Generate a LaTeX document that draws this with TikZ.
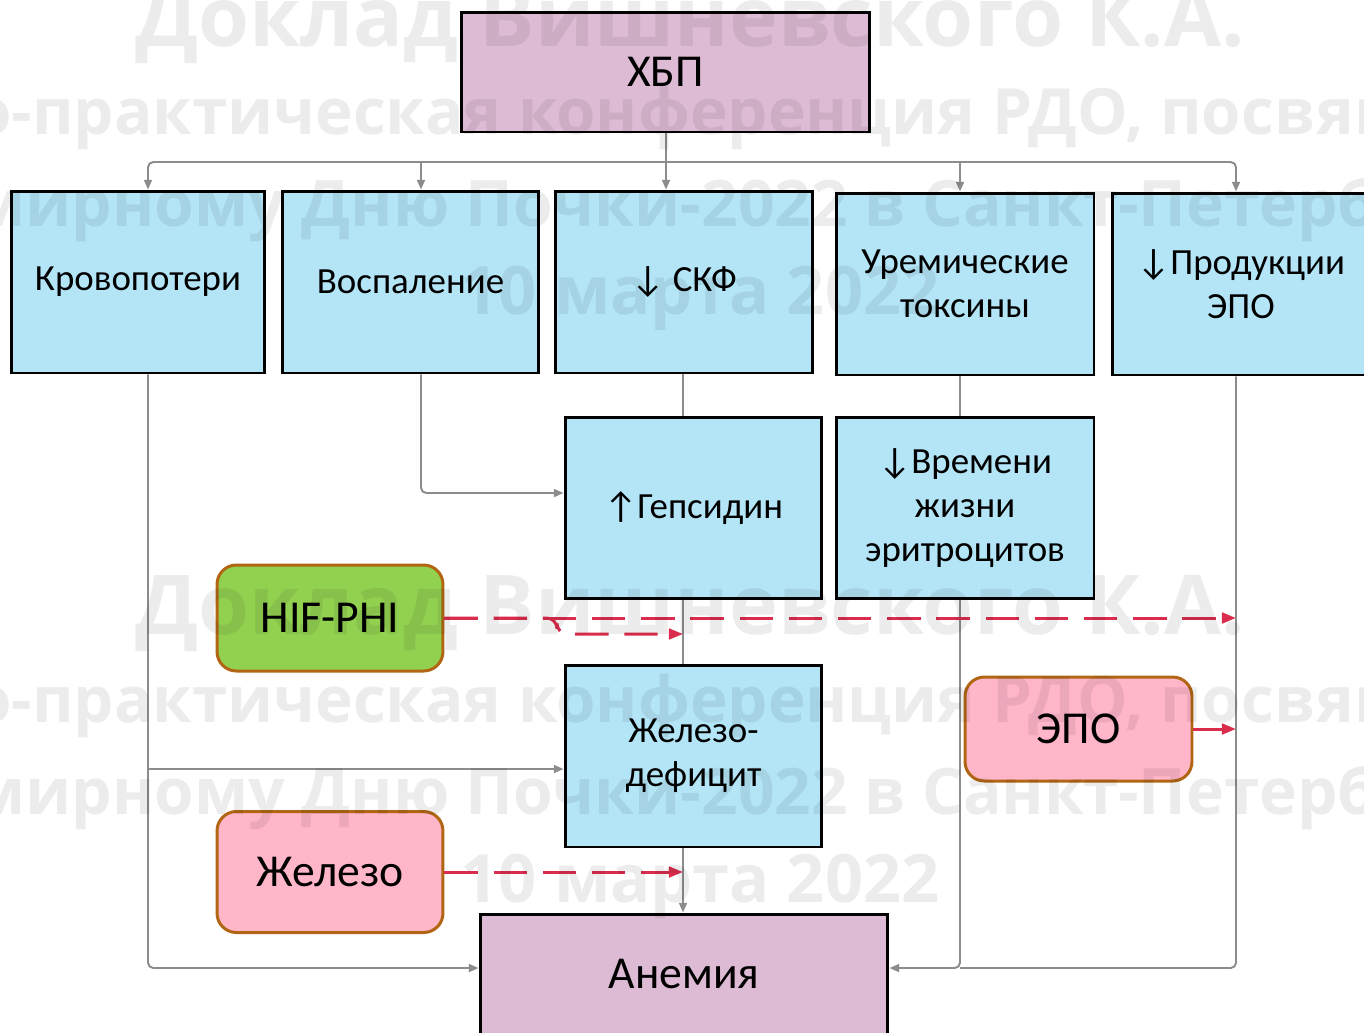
\documentclass[tikz,border=0pt]{standalone}
\usepackage{fontspec}
\setmainfont{Carlito}
\newfontfamily\wmfont{Open Sans}
\usetikzlibrary{arrows.meta}
\definecolor{boxblue}{RGB}{179,229,247}
\definecolor{lilac}{RGB}{221,187,212}
\definecolor{hifgreen}{RGB}{146,208,80}
\definecolor{pinkfill}{RGB}{255,182,201}
\definecolor{rborder}{RGB}{178,102,20}
\definecolor{conngray}{RGB}{140,140,140}
\definecolor{reddash}{RGB}{218,44,76}
\tikzset{
  sqbox/.style={draw=black, line width=1.7pt, fill=boxblue, inner sep=0pt, align=center,
    font=\fontsize{21}{25}\selectfont},
  bigbox/.style={sqbox, fill=lilac, font=\fontsize{26}{30}\selectfont},
  rbox/.style={draw=rborder, line width=1.7pt, rounded corners=11pt, inner sep=0pt, align=center,
    font=\fontsize{26}{30}\selectfont},
  conn/.style={draw=conngray, line width=1.1pt},
  garrow/.style={conn, -{Triangle[length=5.5pt,width=4.5pt]}},
  rline/.style={draw=reddash, line width=1.7pt, dash pattern=on 19pt off 9pt, -{Triangle[length=8pt,width=6pt]}},
  rsolid/.style={draw=reddash, line width=1.7pt, -{Triangle[length=8pt,width=6pt]}},
  wm/.style={text=black, text opacity=0.075, inner sep=0pt, anchor=base},
}
\begin{document}
\begin{tikzpicture}[x=0.02cm,y=-0.02cm]
\path[use as bounding box] (0,0) rectangle (1364,1032);
\clip (0,0) rectangle (1364,1032);
\fill[white] (0,0) rectangle (1364,1032);

% nodes
\node[bigbox, minimum width=8.18cm, minimum height=2.4cm] (hbp) at (665.5,72) {ХБП};
\node[sqbox, minimum width=5.08cm, minimum height=3.64cm] (krov) at (138,282) {\raisebox{-3pt}{Кровопотери}};
\node[sqbox, minimum width=5.14cm, minimum height=3.64cm] (vosp) at (410.5,282) {\raisebox{-3pt}{Воспаление}};
\node[sqbox, minimum width=5.16cm, minimum height=3.64cm] (skf) at (684,282) {\raisebox{-3pt}{↓ СКФ}};
\node[sqbox, minimum width=5.16cm, minimum height=3.64cm] (urem) at (965,284) {Уремические\\токсины};
\node[sqbox, minimum width=5.16cm, minimum height=3.64cm] (prod) at (1241,284) {↓Продукции\\ЭПО};
\node[sqbox, minimum width=5.14cm, minimum height=3.62cm] (gep) at (693.5,508) {↑Гепсидин};
\node[sqbox, minimum width=5.16cm, minimum height=3.62cm] (vrem) at (965,508) {↓Времени\\жизни\\эритроцитов};
\node[rbox, fill=hifgreen, minimum width=4.52cm, minimum height=2.12cm] (hif) at (330,618) {HIF-PHI};
\node[sqbox, minimum width=5.14cm, minimum height=3.64cm] (zhdef) at (693.5,756) {Железо-\\дефицит};
\node[rbox, fill=pinkfill, minimum width=4.54cm, minimum height=2.08cm] (epo) at (1078.5,729) {ЭПО};
\node[rbox, fill=pinkfill, minimum width=4.52cm, minimum height=2.42cm] (zhel) at (330,872) {Железо};
\node[bigbox, minimum width=8.16cm, minimum height=2.4cm] (anem) at (684,974) {Анемия};

% helper coordinates
\coordinate (bus) at (666,162);
\coordinate (cK) at (148,0);
\coordinate (cV) at (421,0);
\coordinate (cS) at (683,0);
\coordinate (cU) at (960,0);
\coordinate (cP) at (1236,0);
\coordinate (yG) at (0,493);
\coordinate (yZ) at (0,769);
\coordinate (yA) at (0,968);
\coordinate (yH2) at (0,634);
\coordinate (bend) at (557,0);

% gray connectors
\draw[conn] (hbp.south -| bus) -- (bus);
\draw[garrow, rounded corners=3pt] (bus) -| (krov.north -| cK);
\draw[garrow, rounded corners=3pt] (bus) -| (prod.north -| cP);
\draw[garrow] (bus -| cV) -- (vosp.north -| cV);
\draw[garrow] (bus) -- (skf.north -| bus);
\draw[garrow] (bus -| cU) -- (urem.north -| cU);

\draw[garrow, rounded corners=3pt] (krov.south -| cK) |- (anem.west |- yA);
\draw[garrow] (cK |- yZ) -- (zhdef.west |- yZ);
\draw[garrow, rounded corners=3pt] (vosp.south -| cV) |- (gep.west |- yG);
\draw[conn] (skf.south -| cS) -- (gep.north -| cS);
\draw[conn] (gep.south -| cS) -- (zhdef.north -| cS);
\draw[garrow] (zhdef.south -| cS) -- (anem.north -| cS);
\draw[conn] (urem.south -| cU) -- (vrem.north -| cU);
\draw[conn, rounded corners=3pt] (prod.south -| cP) |- (cU |- yA);
\draw[garrow, rounded corners=3pt] (vrem.south -| cU) |- (anem.east |- yA);

% red connectors
\draw[rline] (hif.east) -- (hif.east -| cP);
\draw[rline, rounded corners=6pt] (hif.east) -- (hif.east -| bend) |- (cS |- yH2);
\draw[rsolid] (epo.east) -- (epo.east -| cP);
\draw[rline] (zhel.east) -- (zhel.east -| cS);

% watermark
\foreach \dy in {0,588} {
  \node[wm, font=\wmfont\bfseries\fontsize{47}{47}\selectfont] at (690,46+\dy) {Доклад Вишневского К.А.};
  \node[wm, font=\wmfont\bfseries\fontsize{36.3}{37}\selectfont] at (690,134+\dy) {Научно-практическая конференция РДО, посвящённая};
  \node[wm, font=\wmfont\bfseries\fontsize{36.5}{37}\selectfont] at (690,226+\dy) {Всемирному Дню Почки-2022 в Санкт-Петербурге};
  \node[wm, font=\wmfont\bfseries\fontsize{38}{38}\selectfont] at (700,314+\dy) {10 марта 2022};
}
\end{tikzpicture}
\end{document}
